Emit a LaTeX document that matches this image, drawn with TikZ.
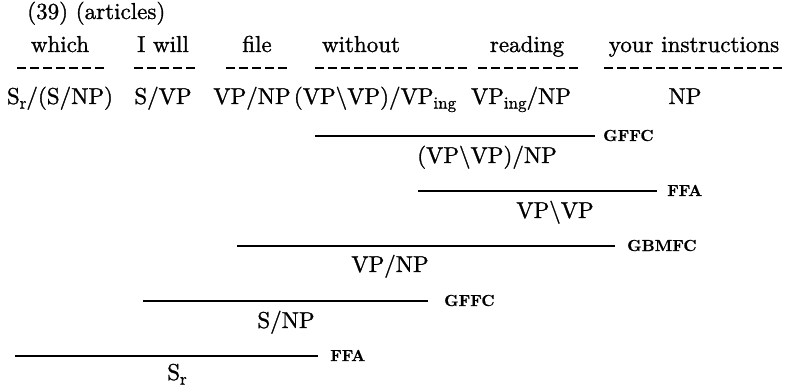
\documentclass[tikz,border=0pt]{standalone}
\usepackage{fontspec}
\newfontfamily\thickrm{lmroman10-regular.otf}[FakeBold=1.2]
\newfontfamily\labrm{lmroman10-bold.otf}[FakeBold=0.6]
\newcommand{\mysub}[1]{\raisebox{-0.2em}{\fontsize{17}{19}\selectfont #1}}
\begin{document}
\begin{tikzpicture}[x=1pt,y=-1pt,
  txt/.style={inner sep=0pt, anchor=base, font=\thickrm\fontsize{23}{27}\selectfont},
  rulelab/.style={inner sep=0pt, anchor=base west, font=\labrm\fontsize{16}{18}\selectfont},
  rule/.style={line width=1.8pt},
  dashrule/.style={line width=1.5pt, dash pattern=on 9pt off 4pt}]
\useasboundingbox (0,0) rectangle (791,387);
% header
\node[txt, anchor=base west] (hdr) at (27,19) {(39) (articles)};
% words
\node[txt] (w1) at (60,52) {which};
\node[txt] (w2) at (163,52) {I will};
\node[txt] (w3) at (257,52) {file};
\node[txt] (w4) at (361,52) {without};
\node[txt] (w5) at (527,52) {reading};
\node[txt] (w6) at (694,52) {your instructions};
% dashed underlines (lengths = n*13-4)
\coordinate (d1a) at (17,68);  \coordinate (d1b) at (104,68);
\coordinate (d2a) at (134,68); \coordinate (d2b) at (195,68);
\coordinate (d3a) at (226,68); \coordinate (d3b) at (287,68);
\coordinate (d4a) at (315,68); \coordinate (d4b) at (467,68);
\coordinate (d5a) at (478,68); \coordinate (d5b) at (578,68);
\coordinate (d6a) at (604,68); \coordinate (d6b) at (782,68);
\foreach \i in {1,...,6} \draw[dashrule] (d\i a) -- (d\i b);
% categories
\node[txt] (c1) at (60,104) {S\mysub{r}/(S/NP)};
\node[txt] (c2) at (163,104) {S/VP};
\node[txt] (c3) at (252,104) {VP/NP};
\node[txt] (c4) at (375,104) {(VP\textbackslash VP)/VP\mysub{ing}};
\node[txt] (c5) at (521,104) {VP\mysub{ing}/NP};
\node[txt] (c6) at (685,104) {NP};
% rule 1: GFFC
\coordinate (r1a) at (315,136); \coordinate (r1b) at (595,136);
\draw[rule] (r1a) -- (r1b);
\node[rulelab] (l1) at ([xshift=8pt,yshift=-5pt]r1b) {GFFC};
\node[txt] (n1) at (487,163) {(VP\textbackslash VP)/NP};
% rule 2: FFA
\coordinate (r2a) at (418,191); \coordinate (r2b) at (657,191);
\draw[rule] (r2a) -- (r2b);
\node[rulelab] (l2) at ([xshift=10pt,yshift=-5pt]r2b) {FFA};
\node[txt] (n2) at (555,218) {VP\textbackslash VP};
% rule 3: GBMFC
\coordinate (r3a) at (237,246); \coordinate (r3b) at (615,246);
\draw[rule] (r3a) -- (r3b);
\node[rulelab] (l3) at ([xshift=12pt,yshift=-5pt]r3b) {GBMFC};
\node[txt] (n3) at (390,272) {VP/NP};
% rule 4: GFFC
\coordinate (r4a) at (143,301); \coordinate (r4b) at (428,301);
\draw[rule] (r4a) -- (r4b);
\node[rulelab] (l4) at ([xshift=16pt,yshift=-5pt]r4b) {GFFC};
\node[txt] (n4) at (286,328) {S/NP};
% rule 5: FFA
\coordinate (r5a) at (15,356); \coordinate (r5b) at (318,356);
\draw[rule] (r5a) -- (r5b);
\node[rulelab] (l5) at ([xshift=12pt,yshift=-5pt]r5b) {FFA};
\node[txt] (n5) at (177,380) {S\mysub{r}};
\end{tikzpicture}
\end{document}
